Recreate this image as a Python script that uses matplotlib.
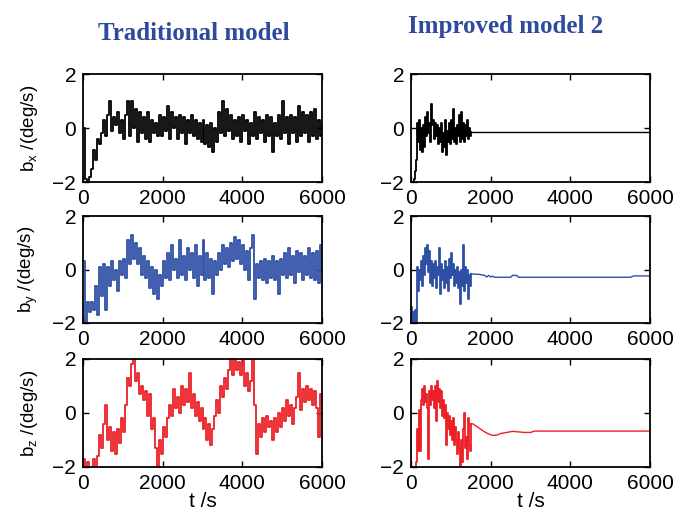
import matplotlib
matplotlib.use("Agg")
import matplotlib.pyplot as plt

# ---------------- data ----------------
t_trad = list(range(0, 6001, 50))

bx_trad = [0, -1.9, -2.0, -1.8, -1.5, -0.8, -1.2, -0.4, -0.6, -0.2,
           0.3, -0.3, 0.5, 1.0, -0.1, 0.4, 0.1, 0.6, -0.2, 0.3,
           -0.4, 0.5, 1.0, -0.3, 1.0, 0.0, 0.7, -0.5, 0.6, -0.2,
           0.4, -0.4, 0.6, -0.5, 0.3, -0.2, 0.2, -0.3, 0.5, -0.3,
           0.4, -0.1, 0.8, -0.4, 0.6, 0.0, 0.4, -0.4, 0.5, -0.2,
           0.4, -0.6, 0.3, -0.2, 0.5, -0.3, 0.3, -0.4, 0.2, -0.5,
           0.3, -0.6, 0.1, -0.7, 0.2, -0.9, 0.0, -0.5, 0.6, -0.2,
           1.0, -0.3, 0.7, -0.1, 0.5, -0.4, 0.3, -0.3, 0.4, -0.5,
           0.5, -0.1, 0.3, -0.6, 0.2, -0.3, 0.6, -0.4, 0.4, -0.2,
           0.3, -0.5, 0.5, -0.3, 0.4, -0.9, 0.2, -0.3, 0.5, -0.4,
           1.0, -0.2, 0.4, -0.6, 0.5, -0.2, 0.4, -0.5, 0.8, -0.3,
           0.6, -0.2, 0.5, -0.5, 0.6, -0.3, 0.7, -0.4, 0.3, -0.3,
           0.2]

by_trad = [0.3, -2.0, -1.2, -1.6, -1.2, -1.5, -0.6, -1.7, 0.1, -1.0,
           0.2, -1.5, 0.1, -0.6, 0.3, -0.4, 0.0, -0.8, 0.3, -0.2,
           0.4, -0.3, 1.1, 0.2, 1.3, 0.4, 1.0, 0.2, 0.8, -0.2,
           0.5, -0.3, 0.3, -0.7, 0.1, -0.9, 0.0, -1.1, -0.2, -0.6,
           0.3, -0.3, 0.6, -0.4, 0.9, 0.0, 0.4, -0.3, 1.1, -0.2,
           0.5, -0.4, 0.8, 0.0, 0.6, -0.3, 0.9, -0.6, 0.5, -0.2,
           1.1, -0.4, 0.6, -0.3, 0.4, -0.9, 0.3, -0.2, 0.6, 0.0,
           0.9, 0.2, 0.8, 0.1, 1.0, 0.3, 1.2, 0.4, 1.1, 0.2,
           0.9, 0.0, 0.7, -0.4, 0.8, 1.3, -1.1, 0.2, -0.3, 0.3,
           -0.4, 0.4, -0.5, 0.3, -0.3, 0.5, -0.4, 0.3, -0.9, 0.4,
           -0.2, 0.6, -0.3, 0.8, -0.2, 0.5, -0.5, 0.7, -0.1, 0.6,
           -0.4, 0.5, -0.2, 0.8, -0.3, 0.6, -0.4, 0.7, -0.5, 0.9,
           0.0]

bz_trad = [-1.7, -2.0, -1.8, -2.0, -2.0, -1.7, -2.0, -1.6, -0.8, -1.3,
           -0.4, 0.3, -1.0, -0.5, -1.4, -0.7, -1.5, -0.6, -1.1, -0.2,
           -0.7, 0.3, 1.3, 1.0, 1.8, 2.0, 1.2, 1.5, 0.7, 1.0,
           0.5, 0.8, -0.1, 0.7, -0.6, -0.2, -1.3, -2.0, -1.0, -1.5,
           -0.5, -0.9, -0.2, 0.3, -0.1, 0.9, 0.2, 0.6, 0.0, 1.0,
           0.3, 0.9, 0.4, 1.5, 0.2, 0.7, -0.1, 0.4, -0.3, 0.2,
           -0.6, -0.2, -1.0, -0.4, -1.2, -0.6, -0.1, 0.5, 0.0, 1.0,
           0.6, 1.3, 0.9, 1.6, 2.0, 1.4, 2.0, 1.6, 1.9, 1.4,
           2.0, 1.0, 1.5, 0.8, 1.2, 2.0, 0.3, -1.5, -0.4, -0.9,
           -0.2, -0.7, -0.1, -0.5, -0.3, -1.0, -0.2, -0.7, 0.0, -0.5,
           0.2, -0.3, 0.5, -0.1, 0.3, -0.4, 0.2, 0.6, 1.5, 0.1,
           0.9, 0.4, 1.0, 0.5, 0.9, 0.3, 0.8, 0.2, -0.9, 0.7,
           0.4]

t_imp = list(range(0, 1501, 25))

bx_imp = [-2.0, -2.0, -2.0, -1.9, -1.6, -1.2, 0.2, -0.5, 0.3, -0.8,
          0.0, -0.9, 0.1, -0.7, 0.4, -0.3, 0.6, -0.2, 0.2, -0.5,
          0.9, 0.1, 0.3, -0.4, 0.2, -0.3, 0.1, -0.6, 0.0, -0.5,
          0.2, -0.9, -0.2, -0.7, 0.3, -1.0, -0.1, -0.5, 0.2, -0.6,
          0.3, -0.4, 0.7, -0.5, 0.0, -0.6, 0.1, -0.3, 0.5, -0.5,
          0.6, -0.4, 0.2, -0.5, 0.1, -0.3, 0.3, -0.4, 0.0, -0.3,
          -0.15]
bx_tail_t = [1550, 6000]
bx_tail = [-0.15, -0.15]

by_imp = [-1.4, -2.0, -1.6, -2.0, -1.5, -2.0, 0.1, -0.8, 0.0, -0.4,
          0.3, -0.6, 0.5, -0.2, 0.8, 0.2, 0.9, -0.1, 0.7, -0.5,
          0.3, -0.6, 0.2, -0.3, 0.3, -0.7, 0.1, -0.2, 0.8, -0.9,
          0.2, -0.4, 0.0, -0.7, 0.3, -0.5, 0.1, -0.8, 0.4, -0.3,
          0.6, -0.2, 0.2, -0.6, 0.0, -0.5, 0.1, -0.7, -0.1, -1.3,
          0.0, -0.6, 0.9, -0.8, 0.1, -0.5, 0.0, -1.1, -0.2, -0.6,
          -0.15]
by_tail_t = [1550, 1700, 1850, 1900, 1950, 2000, 2050, 2100, 2500, 2550,
             2650, 2700, 5500, 5600, 6000]
by_tail = [-0.17, -0.18, -0.22, -0.28, -0.22, -0.28, -0.25, -0.29, -0.29, -0.22,
           -0.22, -0.29, -0.29, -0.24, -0.24]

bz_imp = [-2.0, -2.0, -2.0, -2.0, -2.0, -1.8, -0.6, -1.4, 0.1, -1.4,
          0.5, 0.9, 0.3, 1.0, 0.4, 0.7, 0.2, -1.7, 0.8, 0.3,
          1.0, 0.5, 0.8, 0.2, 1.0, -0.3, 1.2, 0.4, 0.9, 0.2,
          0.8, -0.1, 0.5, -0.2, 0.3, -1.2, 0.0, -0.6, -0.1, -0.8,
          -0.3, -1.0, -0.2, -1.2, -0.5, -1.0, -1.5, -0.7, -1.3, -2.0,
          -1.0, -1.8, -0.6, 0.0, -1.3, -0.9, -1.7, -0.2, -1.2, -1.4,
          -0.4]
bz_tail_t = [1550, 1650, 1750, 1850, 1950, 2050, 2150, 2250, 2400, 2550,
             2700, 2850, 3000, 3100, 6000]
bz_tail = [-0.4, -0.5, -0.6, -0.7, -0.78, -0.83, -0.82, -0.76, -0.72, -0.68,
           -0.7, -0.72, -0.72, -0.67, -0.67]

col_titles = ["Traditional model", "Improved model 2"]
ylabels = [r"$\mathregular{b_x}$ /(deg/s)", r"$\mathregular{b_y}$ /(deg/s)",
           r"$\mathregular{b_z}$ /(deg/s)"]
xlabel = "t /s"
xticks = [0, 2000, 4000, 6000]
yticks = [-2, 0, 2]

colors = ["#000000", "#2E4FA6", "#EC2027"]

# ---------------- figure ----------------
plt.rcParams["font.family"] = ["Liberation Sans", "DejaVu Sans"]
plt.rcParams["mathtext.fontset"] = "custom"
plt.rcParams["mathtext.rm"] = "Liberation Sans"

fig = plt.figure(figsize=(6.78, 5.13), dpi=100)
W, H = 678.0, 513.0

lefts = [83, 411]
width = 239
rows = [(74, 182), (216, 323), (359, 467)]

trad = [bx_trad, by_trad, bz_trad]
imp = [(bx_imp, bx_tail_t, bx_tail), (by_imp, by_tail_t, by_tail),
       (bz_imp, bz_tail_t, bz_tail)]

for r, (top, bot) in enumerate(rows):
    for c in range(2):
        ax = fig.add_axes([lefts[c] / W, 1 - bot / H, width / W, (bot - top) / H])
        if c == 0:
            ax.plot(t_trad, trad[r], color=colors[r], lw=1.3,
                    drawstyle="steps-post")
        else:
            noisy, tt, tv = imp[r]
            ax.plot(t_imp, noisy, color=colors[r], lw=1.3,
                    drawstyle="steps-post")
            ax.plot([t_imp[-1]] + tt, [noisy[-1]] + tv, color=colors[r], lw=1.0)
        ax.set_xlim(0, 6000)
        ax.set_ylim(-2, 2)
        ax.set_xticks(xticks)
        ax.set_yticks(yticks)
        ax.tick_params(direction="in", top=True, right=True, length=4, width=1,
                       labelsize=15, pad=5)
        for s in ax.spines.values():
            s.set_linewidth(1.3)
        if c == 0:
            ax.set_ylabel(ylabels[r], fontsize=13.5)
            ax.yaxis.set_label_coords(-0.18, 0.5)
        if r == 2:
            ax.set_xlabel(xlabel, fontsize=15, labelpad=-1)

fig.text(194 / W, 1 - 33 / H, col_titles[0], ha="center", va="center",
         family=["Liberation Serif"], weight="bold", fontsize=18, color="#2E4A9E")
fig.text(506 / W, 1 - 26 / H, col_titles[1], ha="center", va="center",
         family=["Liberation Serif"], weight="bold", fontsize=18, color="#2E4A9E")

fig.savefig("out.png", dpi=100)
